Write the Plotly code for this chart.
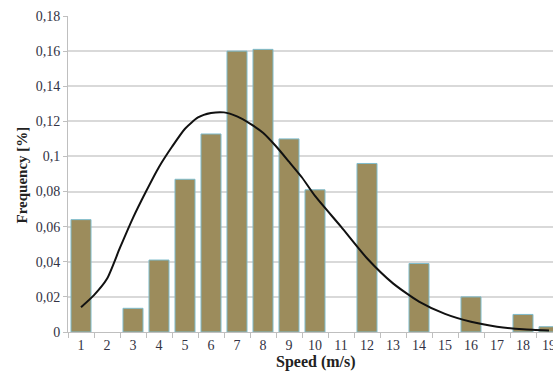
import plotly.graph_objects as go

speeds = list(range(1, 20))
freq = [0.064, 0.0, 0.0135, 0.041, 0.087, 0.1128, 0.160, 0.161, 0.110, 0.081,
        0.0, 0.096, 0.0, 0.039, 0.0, 0.020, 0.0, 0.010, 0.003]
fit_x = [1, 1.5, 2, 2.5, 3, 3.5, 4, 4.5, 5, 5.5, 6, 6.5, 7, 7.5, 8, 8.5, 9, 9.5,
         10, 11, 12, 13, 14, 15, 16, 17, 18, 19]
fit_y = [0.0141, 0.021, 0.0303, 0.048, 0.065, 0.080, 0.094, 0.1055, 0.1158, 0.1222,
         0.1247, 0.1251, 0.1228, 0.1187, 0.1135, 0.1058, 0.097, 0.088,
         0.0775, 0.060, 0.042, 0.0277, 0.0173, 0.0103, 0.0058, 0.0030, 0.0015, 0.0008]
ytick_vals = [0, 0.02, 0.04, 0.06, 0.08, 0.1, 0.12, 0.14, 0.16, 0.18]
ytick_text = ["0", "0,02", "0,04", "0,06", "0,08", "0,1", "0,12", "0,14", "0,16", "0,18"]

bar_y = [v if v > 0 else None for v in freq]

fig = go.Figure()
fig.add_trace(go.Bar(
    x=speeds, y=bar_y, width=0.77,
    marker=dict(color="#9c8c5c", line=dict(color="#7fbccc", width=1)),
    showlegend=False,
))
fig.add_trace(go.Scatter(
    x=fit_x, y=fit_y, mode="lines",
    line=dict(color="#111111", width=2, shape="spline", smoothing=0.6),
    showlegend=False,
))

serif = "Liberation Serif, Times New Roman, serif"
tick_color = "#333344"
fig.update_layout(
    width=553, height=374,
    margin=dict(l=68, r=0, t=16, b=42),
    paper_bgcolor="white", plot_bgcolor="white",
    font=dict(family=serif, size=14, color=tick_color),
    xaxis=dict(
        range=[0.5, 0.5 + 485 / 26],
        tickvals=speeds, ticktext=[str(s) for s in speeds],
        ticks="", showgrid=False, zeroline=False,
        showline=True, linecolor="#bfbfbf", linewidth=1,
        tickfont=dict(family=serif, size=14, color=tick_color),
        ticklabeloverflow="allow", automargin=False,
        minor=dict(tick0=0.5, dtick=1, ticks="outside", ticklen=5,
                   tickcolor="#bfbfbf", showgrid=False),
    ),
    yaxis=dict(
        range=[0, 0.18],
        tickvals=ytick_vals, ticktext=ytick_text,
        ticks="outside", ticklen=4, tickcolor="#bfbfbf",
        showgrid=True, gridcolor="#d9d9d9", gridwidth=1.5,
        zeroline=False, showline=True, linecolor="#bfbfbf", linewidth=1,
        tickfont=dict(family=serif, size=14, color=tick_color),
        automargin=False,
    ),
    annotations=[
        dict(text="<b>Speed (m/s)</b>", xref="paper", yref="paper",
             x=(316 - 68) / 485, y=0, yshift=-30, xanchor="center", yanchor="middle",
             showarrow=False, font=dict(family=serif, size=16, color="#222222")),
        dict(text="<b>Frequency [%]</b>", xref="paper", yref="paper",
             x=0, xshift=-46.5, y=(332 - 175) / 316, xanchor="center", yanchor="middle",
             textangle=-90, showarrow=False,
             font=dict(family=serif, size=15, color="#222222")),
    ],
)

fig.write_html("out.html", config={"displayModeBar": False},
               post_script="document.body.style.margin='0px';")
